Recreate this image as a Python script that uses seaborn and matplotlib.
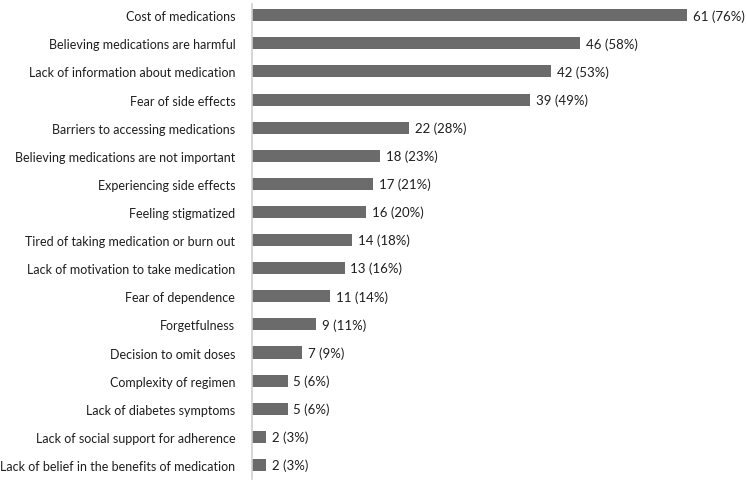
import pandas as pd
import matplotlib
matplotlib.use("Agg")
import matplotlib.pyplot as plt
import seaborn as sns

barriers = [
    "Cost of medications",
    "Believing medications are harmful",
    "Lack of information about medication",
    "Fear of side effects",
    "Barriers to accessing medications",
    "Believing medications are not important",
    "Experiencing side effects",
    "Feeling stigmatized",
    "Tired of taking medication or burn out",
    "Lack of motivation to take medication",
    "Fear of dependence",
    "Forgetfulness",
    "Decision to omit doses",
    "Complexity of regimen",
    "Lack of diabetes symptoms",
    "Lack of social support for adherence",
    "Lack of belief in the benefits of medication",
]
counts = [61, 46, 42, 39, 22, 18, 17, 16, 14, 13, 11, 9, 7, 5, 5, 2, 2]
percents = [76, 58, 53, 49, 28, 23, 21, 20, 18, 16, 14, 11, 9, 6, 6, 3, 3]

df = pd.DataFrame({"barrier": barriers, "count": counts, "pct": percents})

sns.set_theme(style="white")
plt.rcParams["font.family"] = ["Lato", "DejaVu Sans"]

fig = plt.figure(figsize=(7.46, 4.85), dpi=100)
ax = fig.add_axes([252 / 746, 5 / 485, 1 - 252 / 746, 475 / 485])

sns.barplot(data=df, x="count", y="barrier", color="#6b6b6b", width=0.43,
            saturation=1, ax=ax, edgecolor="none")

for i, (c, p) in enumerate(zip(counts, percents)):
    ax.text(c + 0.8, i, f"{c} ({p}%)", va="center", ha="left",
            fontsize=9.5, color="#1e1e1e")

ax.set_xlim(0, 69.3)
ax.set_ylim(16.5, -0.4)
ax.set_xlabel("")
ax.set_ylabel("")
ax.set_xticks([])
ax.tick_params(axis="y", length=0, pad=12, labelsize=9, labelcolor="#1e1e1e")
for side in ["top", "right", "bottom"]:
    ax.spines[side].set_visible(False)
ax.spines["left"].set_color("#d0d0d0")
ax.spines["left"].set_linewidth(1.2)

fig.savefig("out.png", dpi=100)
